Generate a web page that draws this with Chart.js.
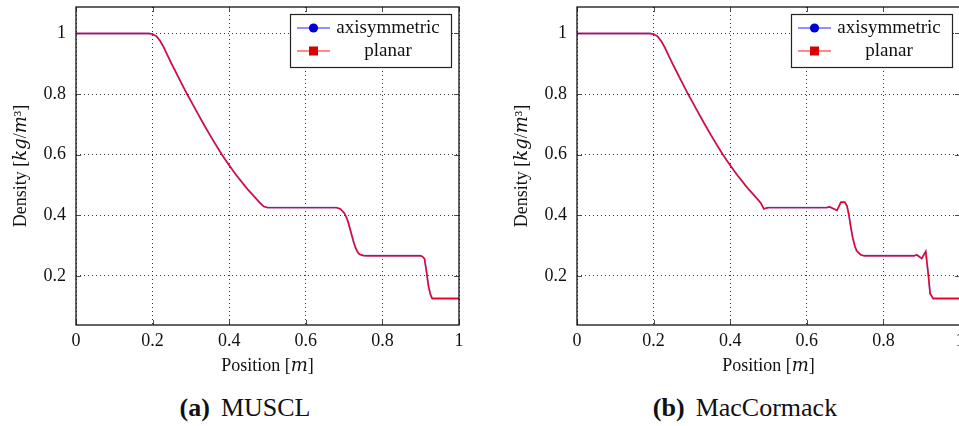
<!DOCTYPE html>
<html><head><meta charset="utf-8">
<script src="https://cdn.jsdelivr.net/npm/chart.js@4/dist/chart.umd.min.js"></script>
<style>
html,body{margin:0;padding:0;background:#fff;width:959px;height:426px;overflow:hidden;position:relative;font-family:'Liberation Serif',serif;}
.pane{position:absolute;top:0;height:380px;}
#p1{left:0;width:480px;}
#p2{left:480px;width:490px;}
.cap{position:absolute;top:392px;font-size:26px;color:#111;white-space:nowrap;transform:translateX(-50%);line-height:32px}
.cap b{font-weight:bold;margin-right:11px}
</style></head><body>
<div class="pane" id="p1"><canvas id="c1" width="480" height="380"></canvas></div>
<div class="pane" id="p2"><canvas id="c2" width="490" height="380"></canvas></div>
<div class="cap" style="left:245px"><b>(a)</b>MUSCL</div>
<div class="cap" style="left:745px"><b>(b)</b>MacCormack</div>
<script>
// ---------- data ----------
const seriesNames = ["axisymmetric", "planar"];
const xTicks = [0, 0.2, 0.4, 0.6, 0.8, 1];
const yTicks = [0.2, 0.4, 0.6, 0.8, 1];
const xTickLabels = ["0", "0.2", "0.4", "0.6", "0.8", "1"];
const yTickLabels = ["0.2", "0.4", "0.6", "0.8", "1"];
const xTitle = "Position [\u{1D45A}]";
const yTitle = "Density [\u{1D458}\u{1D454}/\u{1D45A}\u00B3]";

const musclX = [0, 0.19, 0.20, 0.21, 0.22, 0.23, 0.24, 0.25, 0.26, 0.27, 0.28, 0.29, 0.30, 0.31, 0.32, 0.33, 0.34, 0.35, 0.36, 0.37, 0.38, 0.39, 0.40, 0.41, 0.42, 0.43, 0.44, 0.45, 0.46, 0.47, 0.48, 0.49, 0.50, 0.51, 0.68, 0.69, 0.70, 0.705, 0.71, 0.715, 0.72, 0.725, 0.73, 0.735, 0.74, 0.75, 0.76, 0.90, 0.905, 0.91, 0.915, 0.92, 0.925, 0.93, 1.0];
const musclAxi = [1, 1, 0.998, 0.991, 0.975, 0.952, 0.925, 0.899, 0.874, 0.849, 0.824, 0.800, 0.777, 0.754, 0.731, 0.708, 0.686, 0.664, 0.643, 0.622, 0.602, 0.583, 0.565, 0.547, 0.530, 0.514, 0.498, 0.483, 0.469, 0.455, 0.441, 0.429, 0.425, 0.425, 0.425, 0.421, 0.408, 0.396, 0.380, 0.357, 0.334, 0.311, 0.292, 0.279, 0.271, 0.267, 0.266, 0.266, 0.263, 0.256, 0.215, 0.168, 0.140, 0.125, 0.125];
const musclPlanar = [1, 1, 0.998, 0.991, 0.975, 0.952, 0.925, 0.899, 0.874, 0.849, 0.824, 0.800, 0.777, 0.754, 0.731, 0.708, 0.686, 0.664, 0.643, 0.622, 0.602, 0.583, 0.565, 0.547, 0.530, 0.514, 0.498, 0.483, 0.469, 0.455, 0.441, 0.429, 0.425, 0.425, 0.425, 0.421, 0.408, 0.396, 0.380, 0.357, 0.334, 0.311, 0.292, 0.279, 0.271, 0.267, 0.266, 0.266, 0.263, 0.256, 0.215, 0.168, 0.140, 0.125, 0.125];

const macX = [0, 0.19, 0.20, 0.21, 0.22, 0.23, 0.24, 0.25, 0.26, 0.27, 0.28, 0.29, 0.30, 0.31, 0.32, 0.33, 0.34, 0.35, 0.36, 0.37, 0.38, 0.39, 0.40, 0.41, 0.42, 0.43, 0.44, 0.45, 0.46, 0.47, 0.48, 0.488, 0.495, 0.50, 0.652, 0.659, 0.665, 0.679, 0.689, 0.699, 0.705, 0.71, 0.715, 0.72, 0.725, 0.73, 0.74, 0.75, 0.88, 0.887, 0.893, 0.90, 0.9105, 0.917, 0.922, 0.93, 1.0];
const macAxi = [1, 1, 0.998, 0.991, 0.975, 0.952, 0.925, 0.899, 0.874, 0.849, 0.824, 0.800, 0.777, 0.754, 0.731, 0.708, 0.686, 0.664, 0.643, 0.622, 0.602, 0.583, 0.565, 0.547, 0.530, 0.514, 0.498, 0.483, 0.469, 0.455, 0.440, 0.421, 0.424, 0.425, 0.425, 0.428, 0.424, 0.416, 0.443, 0.443, 0.430, 0.400, 0.360, 0.325, 0.300, 0.283, 0.270, 0.266, 0.266, 0.269, 0.264, 0.257, 0.280, 0.207, 0.141, 0.125, 0.125];
const macPlanar = [1, 1, 0.998, 0.991, 0.975, 0.952, 0.925, 0.899, 0.874, 0.849, 0.824, 0.800, 0.777, 0.754, 0.731, 0.708, 0.686, 0.664, 0.643, 0.622, 0.602, 0.583, 0.565, 0.547, 0.530, 0.514, 0.498, 0.483, 0.469, 0.455, 0.440, 0.421, 0.424, 0.425, 0.425, 0.428, 0.424, 0.416, 0.443, 0.443, 0.430, 0.400, 0.360, 0.325, 0.300, 0.283, 0.270, 0.266, 0.266, 0.269, 0.264, 0.257, 0.280, 0.207, 0.141, 0.125, 0.125];

// ---------- styling ----------
const FONT = "'Liberation Serif', 'DejaVu Serif', serif";
const BLUE_LINE = 'rgba(90,60,210,0.6)';
const RED_LINE = 'rgb(232,0,40)';

function pts(xs, ys){ return xs.map((x,i)=>({x:x, y:ys[i]})); }

const framePlugin = {
  id: 'frameLegend',
  afterDraw(chart){
    const {ctx, chartArea:a, scales} = chart;
    ctx.save();
    // inward ticks on all sides
    ctx.strokeStyle = 'rgba(60,60,60,0.9)';
    ctx.lineWidth = 1;
    ctx.beginPath();
    xTicks.forEach(v=>{
      const px = Math.round(scales.x.getPixelForValue(v))+0.5;
      ctx.moveTo(px, a.bottom); ctx.lineTo(px, a.bottom-5);
      ctx.moveTo(px, a.top); ctx.lineTo(px, a.top+5);
    });
    yTicks.forEach(v=>{
      const py = Math.round(scales.y.getPixelForValue(v))+0.5;
      ctx.moveTo(a.left, py); ctx.lineTo(a.left+5, py);
      ctx.moveTo(a.right, py); ctx.lineTo(a.right-5, py);
    });
    ctx.stroke();
    // frame
    ctx.strokeStyle = '#111';
    ctx.lineWidth = 1.3;
    ctx.strokeRect(a.left, a.top, a.right-a.left, a.bottom-a.top);
    // legend
    const bw = 161, bh = 53;
    const bx = a.right - 8 - bw, by = a.top + 7;
    ctx.fillStyle = '#fff';
    ctx.fillRect(bx, by, bw, bh);
    ctx.strokeStyle = '#222';
    ctx.lineWidth = 1.2;
    ctx.strokeRect(bx+0.5, by+0.5, bw, bh);
    const rows = [by+14, by+37];
    const legendLine = ['rgba(70,70,255,0.6)', 'rgba(255,60,60,0.6)'];
    const markCol = ['#0000d8', '#d80000'];
    chart.data.datasets.forEach((ds, i)=>{
      const ry = rows[i];
      ctx.strokeStyle = legendLine[i];
      ctx.lineWidth = 2;
      ctx.beginPath(); ctx.moveTo(bx+7, ry); ctx.lineTo(bx+40, ry); ctx.stroke();
      ctx.fillStyle = markCol[i];
      if (i===0){ ctx.beginPath(); ctx.arc(bx+23.5, ry, 4.6, 0, Math.PI*2); ctx.fill(); }
      else { ctx.fillRect(bx+19, ry-4.5, 9, 9); }
      ctx.fillStyle = '#111';
      ctx.font = "19px " + FONT;
      ctx.textAlign = 'center';
      ctx.textBaseline = 'middle';
      ctx.fillText(ds.label, bx+98, ry);
    });
    ctx.restore();
  }
};

function makeChart(id, xs, axi, planar, yAxisWidth, padRight){
  return new Chart(document.getElementById(id), {
    type: 'line',
    data: { datasets: [
      { label: seriesNames[0], data: pts(xs, axi), borderColor: BLUE_LINE, borderWidth: 1.9, pointRadius: 0, tension: 0, fill: false, order: 2 },
      { label: seriesNames[1], data: pts(xs, planar), borderColor: RED_LINE, borderWidth: 1.4, pointRadius: 0, tension: 0, fill: false, order: 1 }
    ]},
    options: {
      responsive: false, animation: false, devicePixelRatio: 1,
      layout: { padding: { top: 7, right: padRight, left: 0, bottom: 0 } },
      plugins: { legend: { display: false }, tooltip: { enabled: false } },
      scales: {
        x: {
          type: 'linear', min: 0, max: 1,
          afterFit: s => { s.height = 55; s.paddingLeft = 0; s.paddingRight = 0; },
          afterBuildTicks: s => { s.ticks = xTicks.map(v=>({value:v})); },
          ticks: { padding: 5, color: '#111', font: { family: FONT, size: 18 }, maxRotation: 0,
                   callback: v => xTickLabels[xTicks.indexOf(v)] },
          grid: { drawTicks: false, color: 'rgba(0,0,0,0.8)', lineWidth: 1 },
          border: { display: false, dash: [1, 3] },
          title: { display: true, text: xTitle, color: '#111', font: { family: FONT, size: 18 }, padding: { top: 0, bottom: 3 } }
        },
        y: {
          type: 'linear', min: 0.0375, max: 1.0875,
          afterFit: s => { s.width = yAxisWidth; s.paddingTop = 0; s.paddingBottom = 0; },
          afterBuildTicks: s => { s.ticks = yTicks.map(v=>({value:v})); },
          ticks: { padding: 10, color: '#111', font: { family: FONT, size: 18 },
                   callback: v => yTickLabels[yTicks.indexOf(v)] },
          grid: { drawTicks: false, color: 'rgba(0,0,0,0.8)', lineWidth: 1 },
          border: { display: false, dash: [1, 3] },
          title: { display: true, text: yTitle, color: '#111', font: { family: FONT, size: 18 }, padding: { top: yAxisWidth - 66, bottom: 0 } }
        }
      }
    },
    plugins: [framePlugin]
  });
}

makeChart('c1', musclX, musclAxi, musclPlanar, 76, 21);
makeChart('c2', macX, macAxi, macPlanar, 97, 10);
</script>
</body></html>
